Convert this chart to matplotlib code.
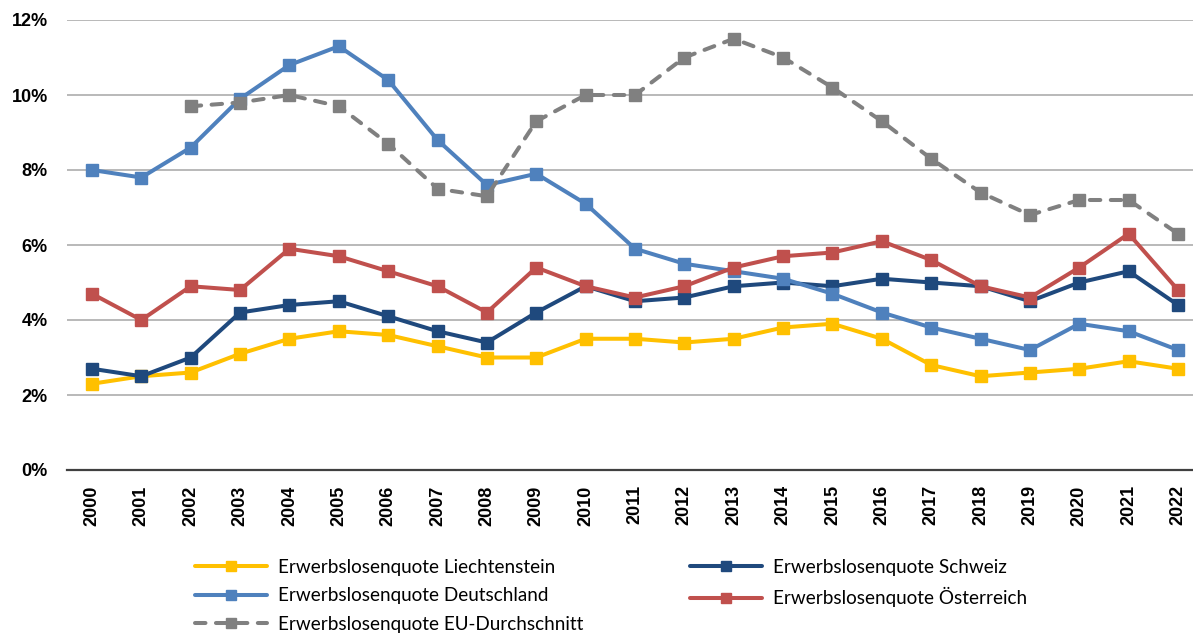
import matplotlib
matplotlib.use("Agg")
import matplotlib.pyplot as plt
import numpy as np

# data (in %)
years = [str(y) for y in range(2000, 2023)]
liechtenstein = [2.3, 2.5, 2.6, 3.1, 3.5, 3.7, 3.6, 3.3, 3.0, 3.0, 3.5, 3.5,
                 3.4, 3.5, 3.8, 3.9, 3.5, 2.8, 2.5, 2.6, 2.7, 2.9, 2.7]
schweiz = [2.7, 2.5, 3.0, 4.2, 4.4, 4.5, 4.1, 3.7, 3.4, 4.2, 4.9, 4.5,
           4.6, 4.9, 5.0, 4.9, 5.1, 5.0, 4.9, 4.5, 5.0, 5.3, 4.4]
deutschland = [8.0, 7.8, 8.6, 9.9, 10.8, 11.3, 10.4, 8.8, 7.6, 7.9, 7.1, 5.9,
               5.5, 5.3, 5.1, 4.7, 4.2, 3.8, 3.5, 3.2, 3.9, 3.7, 3.2]
oesterreich = [4.7, 4.0, 4.9, 4.8, 5.9, 5.7, 5.3, 4.9, 4.2, 5.4, 4.9, 4.6,
               4.9, 5.4, 5.7, 5.8, 6.1, 5.6, 4.9, 4.6, 5.4, 6.3, 4.8]
eu = [np.nan, np.nan, 9.7, 9.8, 10.0, 9.7, 8.7, 7.5, 7.3, 9.3, 10.0, 10.0,
      11.0, 11.5, 11.0, 10.2, 9.3, 8.3, 7.4, 6.8, 7.2, 7.2, 6.3]

labels = ["Erwerbslosenquote Liechtenstein", "Erwerbslosenquote Schweiz",
          "Erwerbslosenquote Deutschland", "Erwerbslosenquote Österreich",
          "Erwerbslosenquote EU-Durchschnitt"]
colors = ["#FFC000", "#1F497D", "#4F81BD", "#C0504D", "#808080"]

W, H = 1193, 634
fig = plt.figure(figsize=(W / 100, H / 100), dpi=100)
# plot area runs a bit past the right edge of the image, like the reference
ax = fig.add_axes([67.3 / W, 1 - 470 / H, 1135.4 / W, 450 / H])

x = np.arange(len(years))
lw = 2.9
ms = 8.8
series = [liechtenstein, schweiz, deutschland, oesterreich, eu]
handles = []
for vals, col, lab in zip(series, colors, labels):
    line, = ax.plot(x, vals, color=col, lw=lw, marker="s", ms=ms,
                    solid_capstyle="round", dash_capstyle="round", label=lab)
    if lab.endswith("EU-Durchschnitt"):
        line.set_dashes((2.6, 2.6))
    handles.append(line)

ax.set_xlim(-0.5, len(years) - 0.5)
ax.set_ylim(0, 12)
ax.set_yticks(np.arange(0, 13, 2))
ax.set_yticklabels([f"{v}%" for v in range(0, 13, 2)])
ax.set_xticks(x)
ax.set_xticklabels(years, rotation=90)

for t in ax.get_xticklabels() + ax.get_yticklabels():
    t.set_fontfamily("Liberation Sans")
    t.set_fontweight("bold")
    t.set_fontsize(13)
ax.tick_params(axis="x", length=0, pad=11)
ax.tick_params(axis="y", length=0, pad=14)

ax.grid(axis="y", color="#A6A6A6", lw=1.1)
ax.set_axisbelow(True)
for s in ["top", "right", "left"]:
    ax.spines[s].set_visible(False)
ax.spines["bottom"].set_color("#404040")
ax.spines["bottom"].set_linewidth(1.6)
ax.spines["bottom"].set_zorder(1)

# two legend columns placed separately
leg_kw = dict(loc="upper left", frameon=False, handlelength=3.8, handletextpad=0.6,
              borderpad=0, borderaxespad=0, labelspacing=0.6, markerscale=0.75,
              prop=dict(family="Lato", size=13.6))
fig.legend([handles[0], handles[2], handles[4]], [labels[0], labels[2], labels[4]],
           bbox_to_anchor=(195 / W, 1 - 559 / H), **leg_kw)
fig.legend([handles[1], handles[3]], [labels[1], labels[3]],
           bbox_to_anchor=(690 / W, 1 - 559 / H), **leg_kw)

fig.savefig("out.png", dpi=100)
